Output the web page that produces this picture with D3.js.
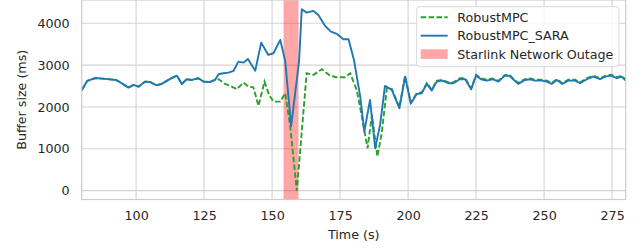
<!DOCTYPE html>
<html>
<head>
<meta charset="utf-8">
<script src="https://cdn.jsdelivr.net/npm/d3@7"></script>
<style>
  body { margin: 0; background: #fff; }
  svg { display: block; font-family: "DejaVu Sans", sans-serif; }
</style>
</head>
<body>
<div class="chart"></div>
<script>
// RobustMPC_SARA (solid blue)
var saraTime = [80, 82, 85, 88.6, 92.6, 94.7, 97.2, 99, 100.9, 103.3, 105.1, 107.4, 109.4, 112.5, 115, 116.8,
  118.6, 120.5, 122.9, 124.8, 127.2, 129, 130.3, 132.1, 134, 135.8, 137.6, 139.5, 141.1, 143.8, 146, 148.6,
  150.5, 153, 154.8, 157, 159.9, 160.9, 162.7, 165.2, 167, 169.5, 171.6, 174, 176.2, 178.1, 180.1, 182.4,
  183.9, 186, 187.9, 189.7, 191.5, 194, 196.8, 198.9, 201, 203.2, 205, 206.9, 208.7, 210.5, 212.6, 214.8,
  216.7, 219.1, 221, 223.2, 225, 226.8, 228.9, 231, 233.2, 235.5, 237.3, 238.6, 240.5, 243, 244.9, 246.7,
  249.2, 251, 252.8, 254.7, 256.7, 258.9, 261.4, 263.2, 265.7, 268.1, 270.6, 272.4, 274.6, 276.7, 278.5, 280];
var saraBuffer = [2400, 2620, 2690, 2670, 2645, 2566, 2461, 2526, 2485, 2605, 2597, 2518, 2550, 2669, 2748, 2550,
  2662, 2645, 2686, 2605, 2597, 2645, 2781, 2805, 2820, 2860, 3083, 3059, 3147, 2867, 3536, 3243,
  3283, 3601, 3106, 1540, 3083, 4334, 4253, 4294, 4198, 3935, 3800, 3737, 3618, 3618, 3123, 2246,
  1410, 2167, 1013, 1570, 2502, 2406, 1969, 2724, 2080, 2310, 2327, 2550, 2390, 2605, 2628, 2566,
  2566, 2669, 2662, 2423, 2748, 2662, 2628, 2662, 2605, 2741, 2745, 2662, 2550, 2645, 2662, 2628,
  2628, 2605, 2550, 2645, 2550, 2628, 2628, 2566, 2662, 2724, 2662, 2724, 2748, 2686, 2724, 2628];

// RobustMPC (dashed green)
var mpcTime = [80, 82, 85, 88.6, 92.6, 94.7, 97.2, 99, 100.9, 103.3, 105.1, 107.4, 109.4, 112.5, 115, 116.8,
  118.6, 120.5, 122.9, 124.8, 127.2, 129, 130.3, 132.7, 134.6, 137, 139.5, 141.3, 143.1, 145, 147.2, 148.9,
  150.5, 153, 154.8, 156.6, 159.1, 162.7, 165.2, 168.3, 171.4, 173.9, 176.8, 178.7, 181.1, 183, 185.1, 186.7,
  188.7, 190.3, 192.2, 194, 196.8, 198.9, 201, 203.2, 205, 206.9, 208.7, 210.5, 212.6, 214.8,
  216.7, 219.1, 221, 223.2, 225, 226.8, 228.9, 231, 233.2, 235.5, 237.3, 238.6, 240.5, 243, 244.9, 246.7,
  249.2, 251, 252.8, 254.7, 256.7, 258.9, 261.4, 263.2, 265.7, 268.1, 270.6, 272.4, 274.6, 276.7, 278.5, 280];
var mpcBuffer = [2400, 2620, 2690, 2670, 2645, 2566, 2461, 2526, 2485, 2605, 2597, 2518, 2550, 2669, 2748, 2550,
  2662, 2645, 2686, 2605, 2597, 2645, 2662, 2550, 2502, 2423, 2581, 2485, 2470, 2024, 2605, 2287,
  2127, 2127, 2327, 1570, 0, 2805, 2765, 2900, 2741, 2710, 2710, 2805, 2406, 1768, 1013, 1809,
  812, 1372, 2447, 2430, 1990, 2744, 2100, 2330, 2347, 2570, 2410, 2625, 2648, 2586,
  2586, 2689, 2682, 2443, 2768, 2682, 2648, 2682, 2625, 2761, 2765, 2682, 2570, 2665, 2682, 2648,
  2648, 2625, 2570, 2665, 2570, 2648, 2648, 2586, 2682, 2744, 2682, 2744, 2768, 2706, 2744, 2648];

var outage = [154.2, 159.7];   // Starlink outage window (s)
var xTicks = [100, 125, 150, 175, 200, 225, 250, 275];
var yTicks = [0, 1000, 2000, 3000, 4000];

var W = 644, H = 250;
var pLeft = 81.7, pRight = 625.7, pTop = 0, pBottom = 199.5;

var svg = d3.select(".chart").append("svg")
    .attr("width", W)
    .attr("height", H);

var x = d3.scaleLinear().domain([80, 280]).range([pLeft, pRight]);
var y = d3.scaleLinear().domain([-212, 4555]).range([pBottom, pTop]);

// rejilla
svg.append("g").selectAll("line").data(xTicks).enter().append("line")
    .attr("x1", d => x(d)).attr("x2", d => x(d))
    .attr("y1", pTop).attr("y2", pBottom)
    .attr("stroke", "#d4d4d4").attr("stroke-width", 1.1);
svg.append("g").selectAll("line").data(yTicks).enter().append("line")
    .attr("x1", pLeft).attr("x2", pRight)
    .attr("y1", d => y(d)).attr("y2", d => y(d))
    .attr("stroke", "#d4d4d4").attr("stroke-width", 1.1);

// corte de red
svg.append("rect")
    .attr("x", x(outage[0]))
    .attr("width", x(outage[1]) - x(outage[0]))
    .attr("y", pTop).attr("height", pBottom - pTop)
    .attr("fill", "#ff0000").attr("fill-opacity", 0.35);

var line = d3.line().x(d => x(d[0])).y(d => y(d[1]));

svg.append("clipPath").attr("id", "clip").append("rect")
    .attr("x", pLeft).attr("y", pTop).attr("width", pRight - pLeft).attr("height", pBottom - pTop);

var plot = svg.append("g").attr("clip-path", "url(#clip)");

plot.append("path")
    .datum(d3.zip(mpcTime, mpcBuffer))
    .attr("d", line)
    .attr("fill", "none")
    .attr("stroke", "#2ca02c")
    .attr("stroke-width", 1.9)
    .attr("stroke-dasharray", "5.5,2.4");

plot.append("path")
    .datum(d3.zip(saraTime, saraBuffer))
    .attr("d", line)
    .attr("fill", "none")
    .attr("stroke", "#1f77b4")
    .attr("stroke-width", 1.9)
    .attr("stroke-linejoin", "round");

// marco
svg.append("rect")
    .attr("x", pLeft).attr("y", pTop)
    .attr("width", pRight - pLeft).attr("height", pBottom - pTop)
    .attr("fill", "none").attr("stroke", "#cccccc").attr("stroke-width", 1.2);

// ejes (sin marcas)
var xAxis = d3.axisBottom(x).tickValues(xTicks).tickSize(0).tickPadding(11);
var yAxis = d3.axisLeft(y).tickValues(yTicks).tickSize(0).tickPadding(12).tickFormat(d3.format("d"));

svg.append("g")
    .attr("transform", "translate(0," + pBottom + ")")
    .call(xAxis)
    .call(g => g.select(".domain").remove())
    .selectAll("text")
    .attr("font-size", 12.7).attr("font-family", "DejaVu Sans").attr("fill", "#262626");

svg.append("g")
    .attr("transform", "translate(" + pLeft + ",0)")
    .call(yAxis)
    .call(g => g.select(".domain").remove())
    .selectAll("text")
    .attr("font-size", 12.7).attr("font-family", "DejaVu Sans").attr("fill", "#262626");

svg.append("text")
    .attr("x", (pLeft + pRight) / 2).attr("y", 239)
    .attr("text-anchor", "middle")
    .attr("font-size", 12.7).attr("fill", "#262626")
    .text("Time (s)");

svg.append("text")
    .attr("transform", "translate(26," + (pBottom / 2) + ") rotate(-90)")
    .attr("text-anchor", "middle")
    .attr("font-size", 12.7).attr("fill", "#262626")
    .text("Buffer size (ms)");

// leyenda
var lg = svg.append("g").attr("transform", "translate(416.7,6.7)");
lg.append("rect")
    .attr("width", 202.3).attr("height", 60)
    .attr("rx", 3)
    .attr("fill", "#fff").attr("fill-opacity", 0.8)
    .attr("stroke", "#d9d9d9");
var items = [
  {label: "RobustMPC", type: "dash"},
  {label: "RobustMPC_SARA", type: "line"},
  {label: "Starlink Network Outage", type: "patch"}
];
items.forEach(function(it, i) {
  var cy = 10.6 + i * 18.4;
  if (it.type === "patch") {
    lg.append("rect").attr("x", 4).attr("y", cy - 4.8).attr("width", 27).attr("height", 9.6)
      .attr("fill", "#ff0000").attr("fill-opacity", 0.35);
  } else {
    lg.append("line").attr("x1", 4).attr("x2", 31).attr("y1", cy).attr("y2", cy)
      .attr("stroke", it.type === "dash" ? "#2ca02c" : "#1f77b4")
      .attr("stroke-width", 1.9)
      .attr("stroke-dasharray", it.type === "dash" ? "5.5,2.4" : null);
  }
  lg.append("text").attr("x", 40.6).attr("y", cy).attr("dy", "0.36em")
    .attr("font-size", 12.7).attr("fill", "#262626")
    .text(it.label);
});
</script>
</body>
</html>
